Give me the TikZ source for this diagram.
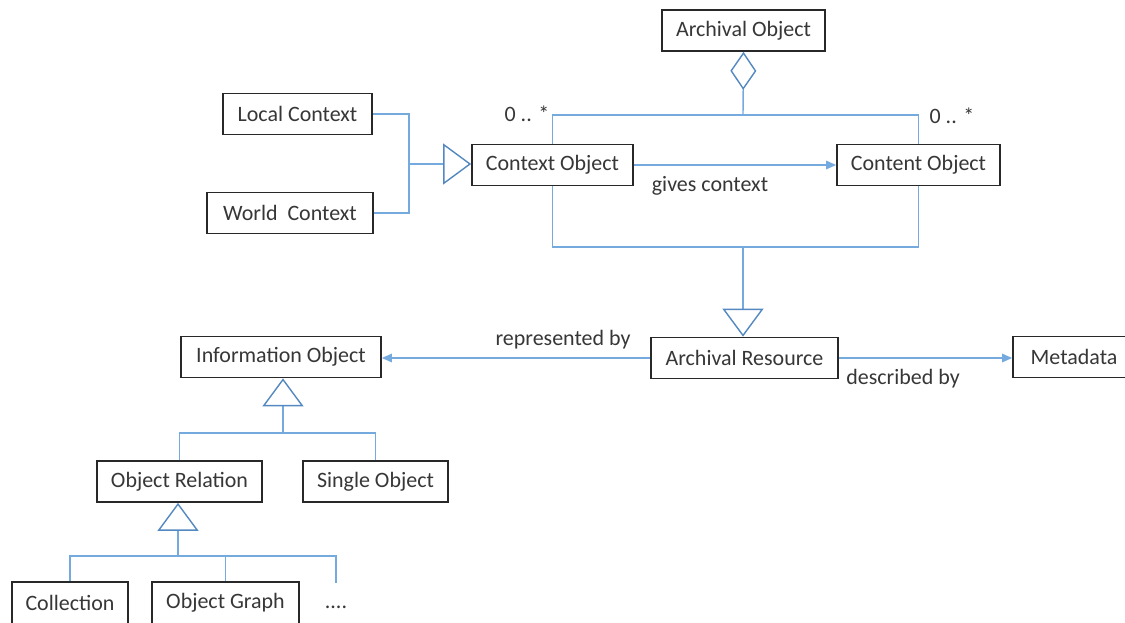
\documentclass[tikz,border=0pt]{standalone}
\usepackage{fontspec}
\setmainfont{Carlito}
\usepackage{xcolor}
\usepackage{tikz}
\usetikzlibrary{arrows.meta}

\definecolor{boxgray}{RGB}{40,40,40}
\definecolor{textgray}{RGB}{55,55,55}
\definecolor{linkblue}{RGB}{116,170,222}
\definecolor{genblue}{RGB}{84,136,192}

\tikzset{
  box/.style={draw=boxgray, line width=1pt, rectangle, fill=white, minimum height=0.82cm, inner sep=0pt, text=textgray, font=\fontsize{12.5pt}{15pt}\selectfont},
  lbl/.style={text=textgray, font=\fontsize{12.5pt}{15pt}\selectfont, inner sep=0pt},
  link/.style={draw=linkblue, line width=0.8pt},
  assoc/.style={link, -{Triangle[length=0.2cm, width=0.17cm]}},
  gen/.style={link, -{Triangle[open, length=0.56cm, width=0.82cm, line width=0.8pt, color=genblue]}},
  agg/.style={link, {Diamond[open, length=0.76cm, width=0.52cm, line width=0.8pt, color=genblue]}-},
}

\begin{document}
\begin{tikzpicture}[x=0.02cm, y=-0.02cm]%
\useasboundingbox (0,0) rectangle (1125,622);%
% boxes
\node[box, minimum width=3.26cm] (archobj) at (743.5,30.5) {Archival Object};%
\node[box, minimum width=3.22cm] (ctxobj) at (552.5,165) {Context Object};%
\node[box, minimum width=3.26cm] (cntobj) at (918.5,165) {Content Object};%
\node[box, minimum width=2.98cm] (localctx) at (297.5,114) {Local Context};%
\node[box, minimum width=3.32cm] (worldctx) at (290,213) {World\ \ Context};%
\node[box, minimum width=3.74cm] (archres) at (744.5,358) {Archival Resource};%
\node[box, minimum width=2.44cm] (metadata) at (1074,357) {Metadata};%
\node[box, minimum width=4.0cm] (infoobj) at (281,357) {Information Object};%
\node[box, minimum width=3.3cm] (objrel) at (179.5,481.5) {Object Relation};%
\node[box, minimum width=2.9cm] (single) at (375.5,481.5) {Single Object};%
\node[box, minimum width=2.32cm, minimum height=0.84cm] (collection) at (70,603) {Collection};%
\node[box, minimum width=2.94cm, minimum height=0.84cm] (objgraph) at (225.5,603) {Object Graph};%
\node[lbl] (dots) at (336,607) {....};%
% joins
\coordinate (aggtop) at (743,115);%
\coordinate (genbot) at (743,247);%
\coordinate (ctxjoin) at (409,164);%
\coordinate (infojoin) at (283,433);%
\coordinate (reljoin) at (178,556);%
\coordinate (more) at (336,583);%
% aggregation
\draw[link] (ctxobj.north) |- (aggtop) -| (cntobj.north);%
\draw[agg] (archobj.south) -- (aggtop);%
\node[lbl] (mulctx) at (527,114) {0 .. *};%
\node[lbl] (mulcnt) at (952,116) {0 .. *};%
% generalisations
\draw[link] (ctxobj.south) |- (genbot) -| (cntobj.south);%
\draw[gen] (genbot) -- (genbot |- archres.north);%
\draw[link] (localctx.east) -| (ctxjoin);%
\draw[link] (worldctx.east) -| (ctxjoin);%
\draw[gen] (ctxjoin) -- (ctxjoin -| ctxobj.west);%
\draw[link] (objrel.north) |- (infojoin) -| (single.north);%
\draw[gen] (infojoin) -- (infojoin |- infoobj.south);%
\draw[link] (collection.north) |- (reljoin) -| (objgraph.north);%
\draw[link] (reljoin) -| (more);%
\draw[gen] (reljoin) -- (reljoin |- objrel.south);%
% associations
\draw[assoc] (ctxobj.east) -- (cntobj.west);%
\node[lbl] (gives) at (710,186) {gives context};%
\draw[assoc] (archres.west) -- (archres.west -| infoobj.east);%
\node[lbl] (repr) at (563,340) {represented by};%
\draw[assoc] (archres.east) -- (archres.east -| metadata.west);%
\node[lbl] (descr) at (903,379) {described by};%
\end{tikzpicture}
\end{document}
